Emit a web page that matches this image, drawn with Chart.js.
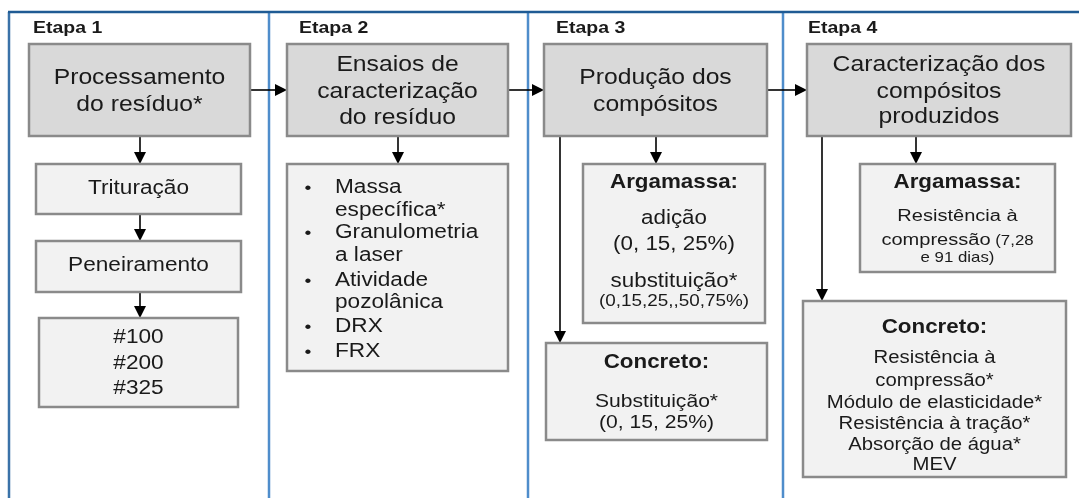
<!DOCTYPE html>
<html>
<head>
<meta charset="utf-8">
<script src="https://cdn.jsdelivr.net/npm/chart.js@4/dist/chart.umd.min.js"></script>
<style>
  html, body { margin: 0; padding: 0; background: #ffffff; }
  #wrap { width: 1079px; height: 498px; position: relative; }
</style>
</head>
<body>
<div id="wrap"><canvas id="flow"></canvas></div>
<script>
// ---- content (text of the diagram) ----
const stageLabels = ['Etapa 1', 'Etapa 2', 'Etapa 3', 'Etapa 4'];
const stageTitles = [
    ['Processamento', 'do resíduo*'],
    ['Ensaios de', 'caracterização', 'do resíduo'],
    ['Produção dos', 'compósitos'],
    ['Caracterização dos', 'compósitos', 'produzidos']
];
const stage1Steps = [['Trituração'], ['Peneiramento'], ['#100', '#200', '#325']];
const stage2Tests = [['Massa', 'específica*'], ['Granulometria', 'a laser'], ['Atividade', 'pozolânica'], ['DRX'], ['FRX']];
const stage3Mortar = ['Argamassa:', 'adição', '(0, 15, 25%)', 'substituição*', '(0,15,25,,50,75%)'];
const stage3Concrete = ['Concreto:', 'Substituição*', '(0, 15, 25%)'];
const stage4Mortar = ['Argamassa:', 'Resistência à', ['compressão', ' (7,28'], 'e 91 dias)'];
const stage4Concrete = ['Concreto:', 'Resistência à', 'compressão*', 'Módulo de elasticidade*', 'Resistência à tração*', 'Absorção de água*', 'MEV'];

// ---- layout (diagram units = pixels of the 1079x498 frame) ----
const SX = 1.16;   // the source figure is stretched horizontally
const FONT = '"Liberation Sans", Arial, sans-serif';
const LAYOUT = {
    dividers: [9, 269, 528, 783],
    stageLabelX: [33, 299, 556, 808],
    titleBoxes: [[29, 44, 250, 136], [287, 44, 508, 136], [544, 44, 767, 136], [807, 44, 1071, 136]],
    titleY: [[78, 105], [65, 92, 118], [78, 105], [65, 92, 117]],
    s1Boxes: [[36, 164, 241, 214], [36, 241, 241, 292], [39, 318, 238, 407]],
    s1Y: [[189], [266], [338, 364, 389]],
    s2Box: [287, 164, 508, 371],
    s2Y: [[188, 211], [233, 256], [281, 303], [327], [352]],
    s3MortarBox: [583, 164, 765, 323],
    s3MortarY: [183, 219, 245, 282, 302],
    s3ConcBox: [546, 343, 767, 440],
    s3ConcY: [363, 402, 423],
    s4MortarBox: [860, 164, 1055, 272],
    s4MortarY: [183, 216, 240, 258],
    s4ConcBox: [803, 301, 1066, 477],
    s4ConcY: [328, 358, 381, 403, 424, 445, 465],
    arrows: [
        [250, 90, 287, 90], [508, 90, 544, 90], [767, 90, 807, 90],
        [140, 136, 140, 164], [140, 214, 140, 241], [140, 292, 140, 318],
        [398, 136, 398, 164], [656, 136, 656, 164], [916, 136, 916, 164],
        [560, 136, 560, 343], [822, 136, 822, 301]
    ]
};

const flowPlugin = {
    id: 'flowDiagram',
    afterDraw(chart) {
        const ctx = chart.ctx;
        const xs = chart.scales.x;
        const ys = chart.scales.y;
        const px = v => xs.getPixelForValue(v);
        const py = v => ys.getPixelForValue(v);

        function text(s, x, y, size, bold, align) {
            ctx.save();
            ctx.font = (bold ? 'bold ' : '') + size + 'px ' + FONT;
            ctx.fillStyle = '#1a1a1a';
            ctx.textBaseline = 'middle';
            ctx.textAlign = align || 'center';
            ctx.translate(px(x), py(y));
            ctx.scale(SX, 1);
            ctx.fillText(s, 0, 0);
            ctx.restore();
        }

        function box(b, fill) {
            const x0 = px(b[0]), y0 = py(b[1]), x1 = px(b[2]), y1 = py(b[3]);
            ctx.save();
            ctx.fillStyle = fill;
            ctx.fillRect(x0, y0, x1 - x0, y1 - y0);
            ctx.strokeStyle = '#8a8a8a';
            ctx.lineWidth = 2.5;
            ctx.strokeRect(x0, y0, x1 - x0, y1 - y0);
            ctx.restore();
        }

        function arrow(a) {
            const x0 = px(a[0]), y0 = py(a[1]), x1 = px(a[2]), y1 = py(a[3]);
            const ang = Math.atan2(y1 - y0, x1 - x0);
            const len = 12, half = 6;
            ctx.save();
            ctx.strokeStyle = '#000';
            ctx.fillStyle = '#000';
            ctx.lineWidth = 1.6;
            ctx.beginPath();
            ctx.moveTo(x0, y0);
            ctx.lineTo(x1 - Math.cos(ang) * len, y1 - Math.sin(ang) * len);
            ctx.stroke();
            ctx.beginPath();
            ctx.moveTo(x1, y1);
            ctx.lineTo(x1 - Math.cos(ang) * len - Math.sin(ang) * half, y1 - Math.sin(ang) * len + Math.cos(ang) * half);
            ctx.lineTo(x1 - Math.cos(ang) * len + Math.sin(ang) * half, y1 - Math.sin(ang) * len - Math.cos(ang) * half);
            ctx.closePath();
            ctx.fill();
            ctx.restore();
        }

        // frame: top rule and stage dividers
        ctx.save();
        ctx.lineWidth = 2.5;
        LAYOUT.dividers.forEach((d, i) => {
            ctx.strokeStyle = i === 0 ? '#3a72a8' : '#4f8dcb';
            ctx.beginPath();
            ctx.moveTo(px(d), py(12));
            ctx.lineTo(px(d), py(498));
            ctx.stroke();
        });
        ctx.strokeStyle = '#1f5b94';
        ctx.beginPath();
        ctx.moveTo(px(8), py(12));
        ctx.lineTo(px(1079), py(12));
        ctx.stroke();
        ctx.restore();

        // stage labels
        stageLabels.forEach((s, i) => text(s, LAYOUT.stageLabelX[i], 28, 16.8, true, 'left'));

        // arrows go under the boxes
        LAYOUT.arrows.forEach(arrow);

        // stage title boxes
        LAYOUT.titleBoxes.forEach((b, i) => {
            box(b, '#d9d9d9');
            const cx = (b[0] + b[2]) / 2;
            stageTitles[i].forEach((line, j) => text(line, cx, LAYOUT.titleY[i][j], 21.3));
        });

        // stage 1 steps
        LAYOUT.s1Boxes.forEach((b, i) => {
            box(b, '#f2f2f2');
            const cx = (b[0] + b[2]) / 2;
            stage1Steps[i].forEach((line, j) => text(line, cx, LAYOUT.s1Y[i][j], 19.5));
        });

        // stage 2 test list
        box(LAYOUT.s2Box, '#f2f2f2');
        stage2Tests.forEach((item, i) => {
            text('•', 308, LAYOUT.s2Y[i][0], 17, false, 'center');
            item.forEach((line, j) => text(line, 335, LAYOUT.s2Y[i][j], 19.5, false, 'left'));
        });

        // stage 3
        box(LAYOUT.s3MortarBox, '#f2f2f2');
        const c3m = (LAYOUT.s3MortarBox[0] + LAYOUT.s3MortarBox[2]) / 2;
        stage3Mortar.forEach((line, j) => {
            const size = j === 4 ? 16.3 : 19.3;
            text(line, c3m, LAYOUT.s3MortarY[j], size, j === 0);
        });
        box(LAYOUT.s3ConcBox, '#f2f2f2');
        const c3c = (LAYOUT.s3ConcBox[0] + LAYOUT.s3ConcBox[2]) / 2;
        stage3Concrete.forEach((line, j) => text(line, c3c, LAYOUT.s3ConcY[j], j === 0 ? 19.3 : 18.2, j === 0));

        // stage 4
        box(LAYOUT.s4MortarBox, '#f2f2f2');
        const c4m = (LAYOUT.s4MortarBox[0] + LAYOUT.s4MortarBox[2]) / 2;
        stage4Mortar.forEach((line, j) => {
            if (Array.isArray(line)) {
                // mixed sizes on one line
                ctx.save();
                ctx.font = '17.3px ' + FONT;
                const w1 = ctx.measureText(line[0]).width * SX;
                ctx.font = '14.5px ' + FONT;
                const w2 = ctx.measureText(line[1]).width * SX;
                ctx.restore();
                const start = c4m - (w1 + w2) / 2;
                text(line[0], start, LAYOUT.s4MortarY[j], 17.3, false, 'left');
                text(line[1], start + w1, LAYOUT.s4MortarY[j] + 1, 14.5, false, 'left');
            } else {
                const size = j === 0 ? 19.3 : (j === 3 ? 14.5 : 17.3);
                text(line, c4m, LAYOUT.s4MortarY[j], size, j === 0);
            }
        });
        box(LAYOUT.s4ConcBox, '#f2f2f2');
        const c4c = (LAYOUT.s4ConcBox[0] + LAYOUT.s4ConcBox[2]) / 2;
        stage4Concrete.forEach((line, j) => text(line, c4c, LAYOUT.s4ConcY[j], j === 0 ? 19.3 : 17.5, j === 0));
    }
};

new Chart(document.getElementById('flow'), {
    type: 'scatter',
    data: { datasets: [] },
    options: {
        responsive: true,
        maintainAspectRatio: false,
        animation: false,
        layout: { padding: 0 },
        scales: {
            x: { type: 'linear', min: 0, max: 1079, display: false },
            y: { type: 'linear', min: 0, max: 498, reverse: true, display: false }
        },
        plugins: {
            legend: { display: false },
            tooltip: { enabled: false }
        }
    },
    plugins: [flowPlugin]
});
</script>
</body>
</html>
